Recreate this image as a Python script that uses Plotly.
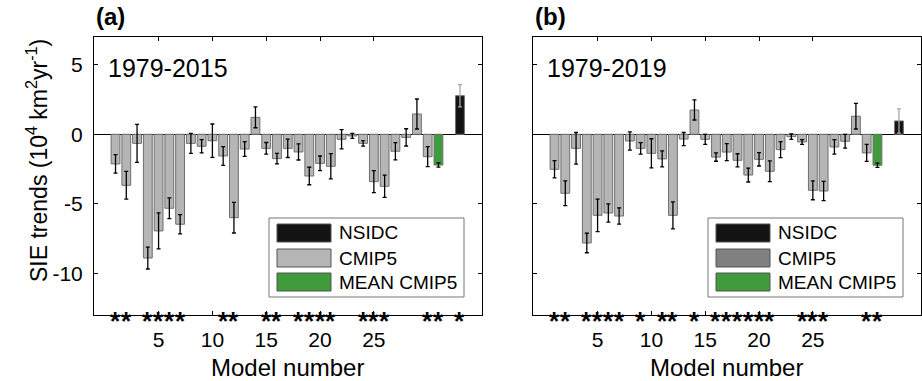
import plotly.graph_objects as go

W, H = 922, 381
FONT = "Liberation Sans, Arial, Helvetica, sans-serif"

# ---------------- data ----------------
models = list(range(1, 31))
mean_pos = 31
nsidc_pos = 33

trend_a = [-2.13, -3.67, -0.65, -8.90, -6.95, -5.32, -6.47, -0.65, -0.86, -0.46,
           -1.56, -6.00, -1.06, 1.22, -1.01, -1.75, -1.01, -1.27, -3.00, -2.09,
           -2.30, -0.36, -0.12, -0.65, -3.41, -3.74, -1.22, -0.22, 1.46, -1.61]
err_a = [0.67, 1.00, 1.37, 0.79, 1.29, 0.75, 0.69, 0.72, 0.47, 1.20,
         0.68, 1.10, 0.53, 0.75, 0.42, 0.38, 0.66, 0.58, 0.63, 0.53,
         0.91, 0.69, 0.18, 0.20, 0.79, 0.80, 0.62, 0.62, 1.08, 0.72]
mean_a, mean_err_a = -2.21, 0.15
nsidc_a, nsidc_err_a = 2.78, 0.80

trend_b = [-2.52, -4.24, -1.01, -7.82, -5.83, -5.66, -5.88, -0.48, -1.01, -1.37,
           -1.77, -5.83, -0.34, 1.75, -0.36, -1.64, -1.28, -1.87, -2.93, -1.80,
           -2.66, -1.10, -0.17, -0.55, -4.03, -4.08, -0.91, -0.50, 1.30, -1.34]
err_b = [0.62, 0.89, 1.14, 0.70, 1.17, 0.66, 0.58, 0.66, 0.41, 1.05,
         0.58, 0.97, 0.47, 0.72, 0.36, 0.30, 0.61, 0.47, 0.50, 0.48,
         0.75, 0.58, 0.19, 0.17, 0.68, 0.69, 0.52, 0.50, 0.92, 0.61]
mean_b, mean_err_b = -2.23, 0.15
nsidc_b, nsidc_err_b = 0.96, 0.87

stars_a = [1, 2, 4, 5, 6, 7, 11, 12, 15, 16, 18, 19, 20, 21, 24, 25, 26, 30, 31, 33]
stars_b = [1, 2, 4, 5, 6, 7, 9, 11, 12, 14, 16, 17, 18, 19, 20, 21, 24, 25, 26, 30, 31]

periods = ["1979-2015", "1979-2019"]
panel_labels = ["(a)", "(b)"]
xtick_vals = [5, 10, 15, 20, 25]
ytick_vals = [-10, -5, 0, 5]
legend_labels = ["NSIDC", "CMIP5", "MEAN CMIP5"]
x_title = "Model number"
y_title = "SIE trends (10<sup>4</sup> km<sup>2</sup>yr<sup>-1</sup>)"

# ---------------- styles ----------------
C_CMIP = "#b5b5b5"
C_CMIP_LEG_B = "#808080"
C_MEAN = "#3f9b3b"
C_NSIDC = "#131313"
C_EDGE = "#6f6f6f"

def px(xp):
    return xp / W

def py(yp):
    return 1 - yp / H

dom_x = [[px(94), px(481.5)], [px(533), px(920.5)]]
dom_y = [py(315), py(37)]

fig = go.Figure()

panels = [
    (trend_a, err_a, mean_a, mean_err_a, nsidc_a, nsidc_err_a, stars_a),
    (trend_b, err_b, mean_b, mean_err_b, nsidc_b, nsidc_err_b, stars_b),
]

annotations = []
shapes = []

for i, (tr, er, mv, me, nv, ne, st) in enumerate(panels):
    xa = "x" if i == 0 else "x2"
    ya = "y" if i == 0 else "y2"
    eb = dict(type="data", symmetric=True, color="black", thickness=1.3, width=2)
    fig.add_trace(go.Bar(x=models, y=tr, error_y=dict(array=er, **eb),
                         marker=dict(color=C_CMIP, line=dict(color=C_EDGE, width=1)),
                         width=0.82, xaxis=xa, yaxis=ya, showlegend=False))
    fig.add_trace(go.Bar(x=[mean_pos], y=[mv], error_y=dict(array=[me], **eb),
                         marker=dict(color=C_MEAN, line=dict(color=C_EDGE, width=1)),
                         width=0.82, xaxis=xa, yaxis=ya, showlegend=False))
    eb2 = dict(eb)
    eb2["color"] = "#a8a8a8"
    fig.add_trace(go.Bar(x=[nsidc_pos], y=[nv], error_y=dict(array=[ne], **eb2),
                         marker=dict(color=C_NSIDC, line=dict(color=C_EDGE, width=1)),
                         width=0.82, xaxis=xa, yaxis=ya, showlegend=False))
    # asterisks
    for s in st:
        annotations.append(dict(x=s, y=-13, xref=xa, yref=ya, text="<b>*</b>",
                                showarrow=False, font=dict(family=FONT, size=26, color="black"),
                                xanchor="center", yanchor="middle", yshift=-6))
    x0 = dom_x[i][0]
    # panel label
    annotations.append(dict(x=x0, y=py(17), xref="paper", yref="paper", text="<b>%s</b>" % panel_labels[i],
                            showarrow=False, font=dict(family=FONT, size=24, color="black"),
                            xanchor="left", yanchor="middle"))
    # period label
    annotations.append(dict(x=x0 + px(12), y=py(68), xref="paper", yref="paper", text=periods[i],
                            showarrow=False, font=dict(family=FONT, size=25, color="black"),
                            xanchor="left", yanchor="middle"))
    # x title
    annotations.append(dict(x=(dom_x[i][0] + dom_x[i][1]) / 2, y=py(367), xref="paper", yref="paper",
                            text=x_title, showarrow=False,
                            font=dict(family=FONT, size=24, color="black"),
                            xanchor="center", yanchor="middle"))
    # legend
    lx0 = 269 if i == 0 else 708
    lx1 = 464 if i == 0 else 903
    shapes.append(dict(type="rect", xref="paper", yref="paper", x0=px(lx0), x1=px(lx1),
                       y0=py(297), y1=py(218), line=dict(color="#777777", width=1),
                       fillcolor="white", layer="above"))
    cols = [C_NSIDC, C_CMIP if i == 0 else C_CMIP_LEG_B, C_MEAN]
    rows = [(224, 242), (249, 267), (273, 291)]
    for lab, c, (ry0, ry1) in zip(legend_labels, cols, rows):
        shapes.append(dict(type="rect", xref="paper", yref="paper",
                           x0=px(lx0 + 8), x1=px(lx0 + 62), y0=py(ry1), y1=py(ry0),
                           line=dict(color="#555555", width=1), fillcolor=c, layer="above"))
        annotations.append(dict(x=px(lx0 + 68), y=py((ry0 + ry1) / 2), xref="paper", yref="paper",
                                text=lab, showarrow=False,
                                font=dict(family=FONT, size=19, color="black"),
                                xanchor="left", yanchor="middle"))

# y title
annotations.append(dict(x=px(37), y=py(161), xref="paper", yref="paper", text=y_title,
                        showarrow=False, textangle=-90,
                        font=dict(family=FONT, size=23, color="black"),
                        xanchor="center", yanchor="middle"))

axis_common = dict(showline=True, linecolor="black", linewidth=1, mirror="ticks",
                   ticks="inside", ticklen=4, tickcolor="black", tickwidth=1,
                   showgrid=False, zeroline=False,
                   tickfont=dict(family=FONT, size=21, color="black"))

for i in range(2):
    sx = "" if i == 0 else "2"
    yax = dict(axis_common, domain=dom_y, range=[-13, 7],
               tickvals=ytick_vals, showticklabels=(i == 0),
               zeroline=True, zerolinecolor="black", zerolinewidth=1,
               anchor="x" + sx)
    if i == 0:
        yax["ticktext"] = [str(v) for v in ytick_vals]
        yax["ticklabelstandoff"] = 6
    fig.update_layout(**{
        "xaxis" + sx: dict(axis_common, domain=dom_x[i], range=[-1, 35],
                           tickvals=xtick_vals, ticktext=[str(v) for v in xtick_vals],
                           ticklabelstandoff=6,
                           anchor="y" + sx),
        "yaxis" + sx: yax,
    })

fig.update_layout(width=W, height=H, margin=dict(l=0, r=0, t=0, b=0),
                  paper_bgcolor="white", plot_bgcolor="white",
                  barmode="overlay", showlegend=False,
                  font=dict(family=FONT, color="black"),
                  annotations=annotations, shapes=shapes)

fig.write_html("out.html")
